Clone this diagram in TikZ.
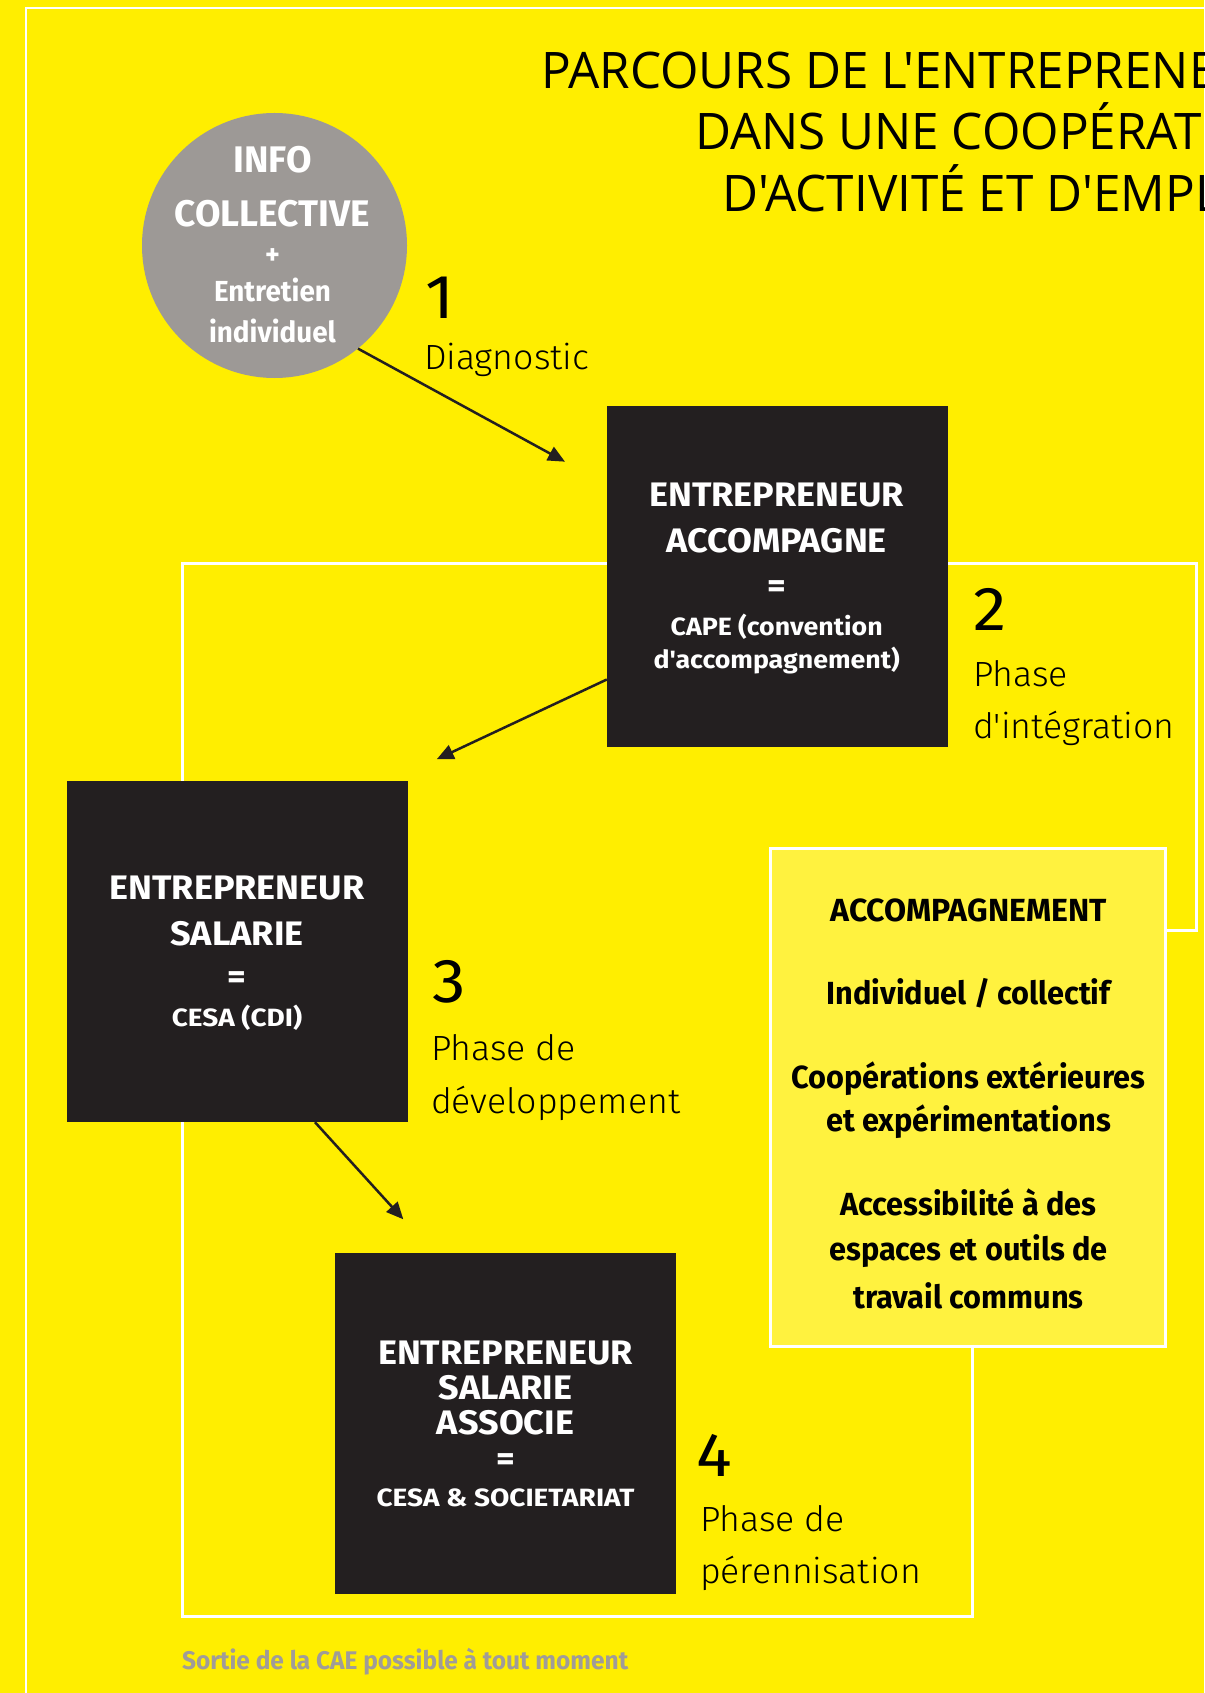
\documentclass[tikz,border=0pt]{standalone}
\usepackage{fontspec}
\usetikzlibrary{arrows.meta}
\setmainfont{Fira Sans}
\newfontfamily\titlefont{Open Sans}[FakeStretch=0.98,Ligatures=TeXOff]
\newfontfamily\capsA{Fira Sans}[FakeStretch=1.06,Ligatures=TeXOff]
\newfontfamily\capsB{Fira Sans}[FakeStretch=1.07,Ligatures=TeXOff]
\newfontfamily\capsC{Fira Sans}[FakeStretch=1.12,Ligatures=TeXOff]
\newfontfamily\capsD{Fira Sans}[FakeStretch=1.0,Ligatures=TeXOff]
\newfontfamily\boldmix{Fira Sans}[FakeStretch=0.96,Ligatures=TeXOff]
\newfontfamily\dinreg{Fira Sans}[FakeStretch=1.08,Ligatures=TeXOff]
\newfontfamily\dinlight{Fira Sans Light}[FakeStretch=1.02,Ligatures=TeXOff]
\definecolor{bgyellow}{HTML}{FFEE00}
\definecolor{boxyellow}{HTML}{FFF23F}
\definecolor{boxblack}{HTML}{231F20}
\definecolor{circgray}{HTML}{9D9996}
\definecolor{notegray}{HTML}{A09C98}
\newcommand{\fsz}[1]{\fontsize{#1}{#1}\selectfont}
\begin{document}
\begin{tikzpicture}[x=1pt,y=-1pt,
  blackbox/.style={rectangle, fill=boxblack, minimum width=341pt, minimum height=341pt, inner sep=0pt},
  frameline/.style={draw=white, line width=3pt},
  conn/.style={draw=boxblack, line width=2.5pt, -{Triangle[length=17pt,width=15pt]}},
  txt/.style={anchor=base, inner sep=0pt, outer sep=0pt},
  wtitle/.style={txt, text=white, font=\capsA\bfseries\fsz{34}},
  wsub/.style={txt, text=white, font=\capsB\bfseries\fsz{25}},
  wsubc/.style={txt, text=white, font=\capsC\bfseries\fsz{25}},
  ctitle/.style={txt, text=white, font=\capsD\bfseries\fsz{37}},
  csub/.style={txt, text=white, font=\boldmix\bfseries\fsz{29}},
  num/.style={txt, anchor=base west, text=black, font=\dinreg\fsz{62}},
  phase/.style={txt, anchor=base west, text=black, font=\dinlight\fsz{35}},
  acc/.style={txt, text=black, font=\boldmix\bfseries\fsz{32}},
  acccaps/.style={txt, text=black, font=\capsD\bfseries\fsz{32}},
  ttl/.style={txt, anchor=base west, text=black, font=\titlefont\fsz{50.4}}
]
\clip (0,0) rectangle (1204,1693);
\fill[bgyellow] (0,0) rectangle (1204,1693);
% outer frame
\draw[white, line width=2pt] (26,1700) -- (26,8) -- (1210,8);
% inner frame
\draw[frameline] (1165,930) -- (1196,930) -- (1196,563) -- (182,563) -- (182,1616) -- (972,1616) -- (972,1346);
% title
\node[ttl] (t1) at (541,89) {PARCOURS DE L'ENTREPRENEUR};
\node[ttl] (t2) at (695,150) {DANS UNE COOPÉRATIVE};
\node[ttl] (t3) at (722,212) {D'ACTIVITÉ ET D'EMPLOI};
% circle
\node[circle, fill=circgray, minimum size=265pt, inner sep=0pt] (info) at (274.5,245.5) {};
\node[ctitle] (i1) at (272.5,172.3) {INFO};
\node[ctitle] (i2) at (272.5,226.7) {COLLECTIVE};
\node[csub] (i3) at (272.5,265) {+};
\node[csub] (i4) at (272.5,301.7) {Entretien};
\node[csub] (i5) at (272.5,342.3) {individuel};
% box A
\node[blackbox] (boxA) at (777.5,576.5) {};
\node[wtitle] (a1) at (776.7,506.7) {ENTREPRENEUR};
\node[wtitle] (a2) at (776.7,552.3) {ACCOMPAGNE};
\node[wtitle] (a3) at (776.7,597) {=};
\node[wsub] (a4) at (776.7,635) {CAPE (convention};
\node[wsub] (a5) at (776.7,668) {d'accompagnement)};
% box B
\node[blackbox] (boxB) at (237.5,951.5) {};
\node[wtitle] (b1) at (237,899.3) {ENTREPRENEUR};
\node[wtitle] (b2) at (237,945) {SALARIE};
\node[wtitle] (b3) at (237,988) {=};
\node[wsubc] (b4) at (237,1026.7) {CESA (CDI)};
% box C
\node[blackbox] (boxC) at (505.5,1423) {};
\node[wtitle] (c1) at (505.5,1364) {ENTREPRENEUR};
\node[wtitle] (c2) at (505.5,1399.3) {SALARIE};
\node[wtitle] (c3) at (505.5,1434) {ASSOCIE};
\node[wtitle] (c4) at (505.5,1470) {=};
\node[wsubc] (c5) at (505.5,1506.7) {CESA \& SOCIETARIAT};
% accompagnement box
\node[rectangle, fill=boxyellow, draw=white, line width=3pt, minimum width=395pt, minimum height=498pt, inner sep=0pt] (accbox) at (967.5,1097) {};
\node[acccaps] (d1) at (968.5,921.2) {ACCOMPAGNEMENT};
\node[acc] (d2) at (968.5,1004) {Individuel / collectif};
\node[acc] (d3) at (968.5,1088.4) {Coopérations extérieures};
\node[acc] (d4) at (968.5,1131.7) {et expérimentations};
\node[acc] (d5) at (968.5,1215.8) {Accessibilité à des};
\node[acc] (d6) at (968.5,1260.7) {espaces et outils de};
\node[acc] (d7) at (968.5,1308) {travail communs};
% phase labels
\node[num] (n1) at (425,318.3) {1};
\node[phase] (p1) at (424,369.3) {Diagnostic};
\node[num] (n2) at (973,630) {2};
\node[phase] (p2a) at (973,686) {Phase};
\node[phase] (p2b) at (973,738.3) {d'intégration};
\node[num] (n3) at (432,1002.7) {3};
\node[phase] (p3a) at (431,1060.7) {Phase de};
\node[phase] (p3b) at (431,1113.3) {développement};
\node[num] (n4) at (696,1476) {4};
\node[phase] (p4a) at (700,1531.7) {Phase de};
\node[phase] (p4b) at (700,1583.3) {pérennisation};
% note
\node[txt, anchor=base west, text=notegray, font=\boldmix\bfseries\fsz{25.5}] (note) at (182,1669.3) {Sortie de la CAE possible à tout moment};
% connectors
\coordinate (tip1) at (565,461.7);
\coordinate (tip2) at (436.7,759.3);
\coordinate (tip3) at (403.3,1219.3);
\draw[conn] (info.-51.7) -- (tip1);
\draw[conn] ([yshift=-103pt]boxA.west) -- (tip2);
\draw[conn] ([xshift=77.5pt]boxB.south) -- (tip3);
\end{tikzpicture}
\end{document}
